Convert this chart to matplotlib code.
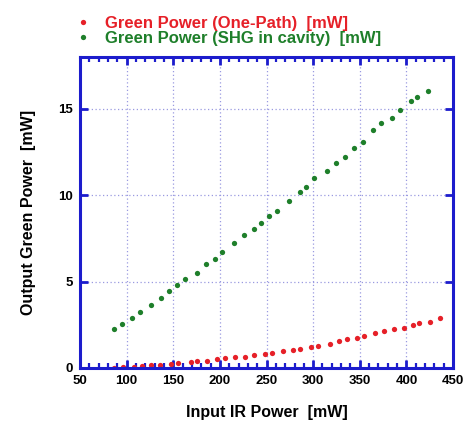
import matplotlib
matplotlib.use("Agg")
import matplotlib.pyplot as plt
from matplotlib.ticker import MultipleLocator

plt.rcParams['font.family'] = ['Liberation Sans', 'DejaVu Sans']
plt.rcParams['font.weight'] = 'bold'

# one-path SHG
ir_one = [86.7, 95.6, 107.4, 116.3, 125.9, 135.6, 148.0, 155.2, 168.7, 175.9,
          186.6, 196.5, 205.1, 216.5, 226.5, 236.4, 247.9, 256.1, 267.4, 278.1,
          285.6, 298.1, 305.3, 317.7, 327.3, 336.3, 347.0, 354.1, 365.8, 375.5,
          387.2, 396.9, 407.5, 414.0, 425.4, 436.1]
green_one = [0.02, 0.06, 0.08, 0.10, 0.16, 0.17, 0.25, 0.27, 0.33, 0.39,
             0.43, 0.50, 0.56, 0.62, 0.66, 0.74, 0.81, 0.89, 0.99, 1.06,
             1.12, 1.24, 1.28, 1.38, 1.57, 1.65, 1.76, 1.86, 2.02, 2.13,
             2.25, 2.31, 2.50, 2.60, 2.66, 2.89]

# SHG in cavity
ir_cav = [86.0, 94.6, 105.6, 113.8, 125.6, 136.6, 145.5, 153.7, 163.0, 175.1,
          185.5, 194.4, 202.6, 215.0, 225.7, 236.4, 244.5, 252.8, 260.7, 273.9,
          285.6, 292.8, 301.3, 314.9, 324.5, 334.2, 343.8, 353.0, 363.7, 373.0,
          384.4, 393.6, 404.8, 411.8, 423.0]
green_cav = [2.23, 2.54, 2.91, 3.22, 3.66, 4.07, 4.46, 4.79, 5.13, 5.51,
             5.99, 6.32, 6.69, 7.23, 7.67, 8.03, 8.41, 8.79, 9.09, 9.67,
             10.16, 10.48, 10.97, 11.41, 11.84, 12.21, 12.71, 13.10, 13.76, 14.15,
             14.44, 14.94, 15.48, 15.68, 16.03]

spine_col = '#1c1ccc'
red = '#e62028'
green = '#1e7f2a'

fig = plt.figure(figsize=(4.69, 4.22), dpi=100)
ax = fig.add_axes([0.1706, 0.128, 0.7954, 0.737])

ax.plot(ir_one, green_one, 'o', color=red, ms=3.8, mec='none',
        label='Green Power (One-Path)  [mW]')
ax.plot(ir_cav, green_cav, 'o', color=green, ms=3.8, mec='none',
        label='Green Power (SHG in cavity)  [mW]')

ax.set_xlim(50, 450)
ax.set_ylim(0, 18)
ax.xaxis.set_major_locator(MultipleLocator(50))
ax.xaxis.set_minor_locator(MultipleLocator(10))
ax.set_yticks([0, 5, 10, 15])

ax.grid(True, which='major', color='#9a9ae0', linestyle=(0, (1, 2)), linewidth=0.9)
for s in ax.spines.values():
    s.set_color(spine_col)
    s.set_linewidth(2.2)
ax.tick_params(which='both', direction='in', top=True, right=True,
               color=spine_col, labelsize=9.5, pad=5)
ax.tick_params(which='major', length=6, width=2)
ax.tick_params(which='minor', length=3.5, width=1.6)

ax.set_xlabel('Input IR Power  [mW]', fontsize=11.5, fontweight='bold', labelpad=13)
ax.set_ylabel('Output Green Power  [mW]', fontsize=11.5, fontweight='bold', labelpad=16)

leg = fig.legend(loc='upper left', bbox_to_anchor=(0.135, 0.998), frameon=False,
                 fontsize=12, handlelength=0.6, handletextpad=1.0,
                 labelspacing=0.0, markerscale=1.0, labelcolor='markerfacecolor')
for t in leg.get_texts():
    t.set_fontweight('bold')

fig.savefig('out.png', dpi=100)
